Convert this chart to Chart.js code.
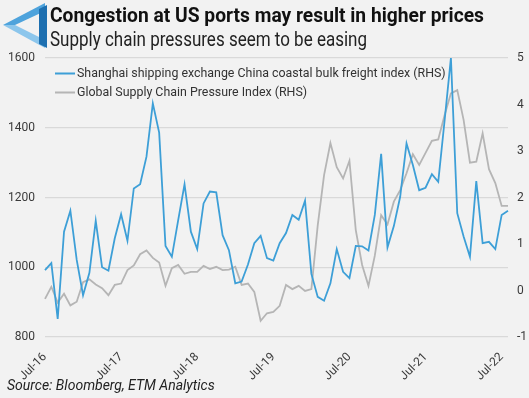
<!DOCTYPE html>
<html><head><meta charset="utf-8">
<script src="https://cdn.jsdelivr.net/npm/chart.js@4"></script>
<style>
html,body{margin:0;padding:0;background:#f2f2f2;}
#wrap{position:relative;width:529px;height:398px;overflow:hidden;background:#f2f2f2;}
#c{position:absolute;left:0;top:0;}
.hd{position:absolute;left:50px;white-space:nowrap;transform-origin:0 0;}
#title{top:5px;font:bold 21px/21px Roboto,sans-serif;color:#111;}
#sub{top:30px;font:19.5px/19.5px Roboto,sans-serif;color:#222;}
#src{position:absolute;left:7px;top:377px;font:italic 14px Roboto,sans-serif;color:#222;white-space:nowrap;}
#logo{position:absolute;left:0;top:0;}
</style></head><body>
<div id="wrap">
<canvas id="c" width="529" height="398"></canvas>
<svg id="logo" width="50" height="50" viewBox="0 0 50 50">
<polygon points="3,25 45,3 45,11 15,25" fill="#4ea3dc"/>
<polygon points="3,25 15,25 45,40 45,48" fill="#8cc6ec"/>
<polygon points="39,9 47,5 47,48 39,44" fill="#1d6fb0"/>
</svg>
<div id="title" class="hd">Congestion at US ports may result in higher prices</div>
<div id="sub" class="hd">Supply chain pressures seem to be easing</div>
<div id="src">Source: Bloomberg, ETM Analytics</div>
</div>
<script>
const months = ["Jul-16","Aug-16","Sep-16","Oct-16","Nov-16","Dec-16",
"Jan-17","Feb-17","Mar-17","Apr-17","May-17","Jun-17","Jul-17","Aug-17","Sep-17","Oct-17","Nov-17","Dec-17",
"Jan-18","Feb-18","Mar-18","Apr-18","May-18","Jun-18","Jul-18","Aug-18","Sep-18","Oct-18","Nov-18","Dec-18",
"Jan-19","Feb-19","Mar-19","Apr-19","May-19","Jun-19","Jul-19","Aug-19","Sep-19","Oct-19","Nov-19","Dec-19",
"Jan-20","Feb-20","Mar-20","Apr-20","May-20","Jun-20","Jul-20","Aug-20","Sep-20","Oct-20","Nov-20","Dec-20",
"Jan-21","Feb-21","Mar-21","Apr-21","May-21","Jun-21","Jul-21","Aug-21","Sep-21","Oct-21","Nov-21","Dec-21",
"Jan-22","Feb-22","Mar-22","Apr-22","May-22","Jun-22","Jul-22","Aug-22"];

const shanghaiFreight = [992,1012,852,1102,1162,1021,920,984,1133,1000,990,1083,
1152,1076,1226,1238,1317,1470,1386,1061,1030,1135,1238,1102,
1052,1183,1217,1215,1092,1049,954,959,1008,1069,1090,1026,
1019,1069,1098,1150,1136,1191,981,915,904,954,1052,987,
969,1061,1060,1048,1150,1325,1057,1118,1202,1355,1293,1221,
1228,1267,1245,1420,1600,1155,1088,1030,1247,1069,1073,1052,
1150,1162];

const gscpi = [-0.18,0.08,-0.26,-0.07,-0.32,-0.24,0.18,0.24,0.13,0.05,-0.10,0.12,
0.15,0.44,0.54,0.78,0.86,0.70,0.60,0.10,0.48,0.55,0.36,0.40,
0.40,0.53,0.46,0.51,0.44,0.45,0.51,0.12,0.15,-0.03,-0.65,-0.49,
-0.46,-0.33,0.12,0.03,0.10,-0.01,0.03,1.40,2.48,3.17,2.65,2.41,
2.79,1.30,0.55,0.10,0.75,1.62,1.42,1.91,2.16,2.52,2.93,2.70,
2.96,3.22,3.25,3.77,4.24,4.31,3.67,2.75,2.77,3.38,2.61,2.31,
1.82,1.82];

const xTickLabels = ["Jul-16","Jul-17","Jul-18","Jul-19","Jul-20","Jul-21","Jul-22"];
const seriesNames = ["Shanghai shipping exchange China coastal bulk freight index (RHS)","Global Supply Chain Pressure Index (RHS)"];
const seriesColors = ["#3d9fd7","#b5b5b5"];

// fit heading widths to the reference's condensed typeface
[["title",434],["sub",317]].forEach(([id,w])=>{
  const el=document.getElementById(id);
  const cur=el.getBoundingClientRect().width;
  if(cur>0) el.style.transform="scaleX("+(w/cur)+")";
});

const FONT = "Roboto, 'Liberation Sans', sans-serif";
const tickColor = "#3a3a3a";

const inlineLegend = {
  id:'inlineLegend',
  afterDatasetsDraw(chart){
    const ctx = chart.ctx, ca = chart.chartArea;
    ctx.save();
    ctx.font = "12.4px " + FONT;
    ctx.textBaseline = "middle";
    chart.data.datasets.forEach((ds,i)=>{
      const y = ca.top + 15.5 + i*19;
      const x = ca.left + 10;
      ctx.strokeStyle = ds.borderColor; ctx.lineWidth = 2;
      ctx.beginPath(); ctx.moveTo(x,y); ctx.lineTo(x+20,y); ctx.stroke();
      ctx.fillStyle = "#333";
      ctx.fillText(ds.label, x+22, y);
    });
    ctx.restore();
  }
};

new Chart(document.getElementById('c'), {
  type:'line',
  data:{labels:months, datasets:[
    {label:seriesNames[0], data:shanghaiFreight, yAxisID:'y', borderColor:seriesColors[0], borderWidth:1.8, pointRadius:0, tension:0},
    {label:seriesNames[1], data:gscpi, yAxisID:'y1', borderColor:seriesColors[1], borderWidth:1.8, pointRadius:0, tension:0}
  ]},
  options:{
    responsive:false, animation:false, devicePixelRatio:1,
    layout:{padding:{top:58,left:0,right:0,bottom:0}},
    plugins:{legend:{display:false}, tooltip:{enabled:false}, title:{display:false}},
    scales:{
      x:{offset:false, grid:{display:false}, border:{display:false},
        ticks:{autoSkip:false, maxRotation:45, minRotation:45, padding:5, color:tickColor, font:{size:12, family:FONT},
          callback:function(v){const l=this.getLabelForValue(v); return xTickLabels.includes(l)?l:'';}},
        afterFit:s=>{s.height=61;}},
      y:{position:'left', min:800, max:1600, grid:{color:'#d9d9d9', lineWidth:1.3, drawTicks:false}, border:{display:false},
        ticks:{stepSize:200, padding:10, color:tickColor, font:{size:12, family:FONT}, callback:v=>String(v)},
        afterFit:s=>{s.width=45;}},
      y1:{position:'right', min:-1, max:5, grid:{display:false, drawTicks:false}, border:{display:false},
        ticks:{stepSize:1, padding:9, color:tickColor, font:{size:12, family:FONT}, callback:v=>String(v)},
        afterFit:s=>{s.width=21;}}
    }
  },
  plugins:[inlineLegend]
});
</script>
</body></html>
